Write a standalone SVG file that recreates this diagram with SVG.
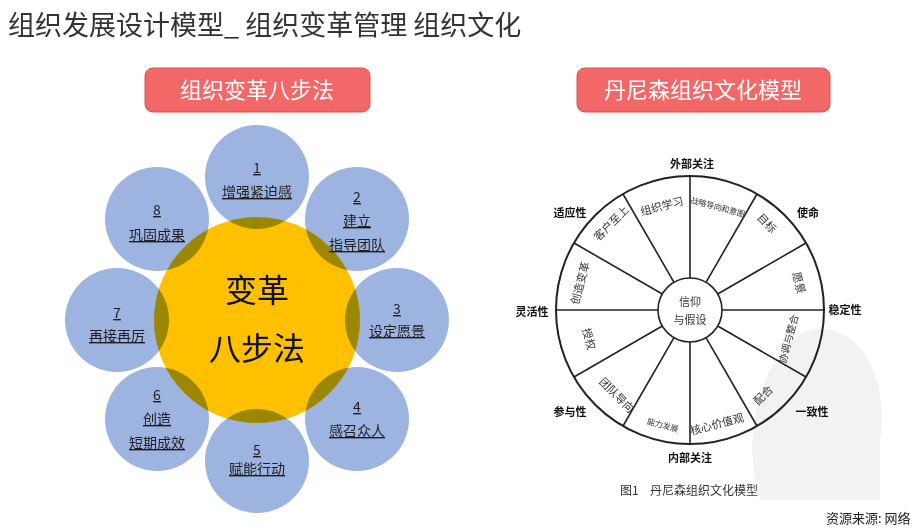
<svg xmlns="http://www.w3.org/2000/svg" width="924" height="532" viewBox="0 0 924 532">
<style>
text{font-family:"Microsoft YaHei","Noto Sans CJK SC",sans-serif}
.bc{fill:#8eaadb;fill-opacity:0.88;mix-blend-mode:multiply}
.bt{font-size:14px;fill:#1f1f1f;text-anchor:middle;text-decoration:underline}
.pill{fill:#f26767;stroke:#e05050}
.pt{font-size:22px;fill:#fff;text-anchor:middle}
.sp{stroke:#222;stroke-width:1.6}
.ol{font-size:11px;font-weight:bold;fill:#111;text-anchor:middle}
.sg{font-size:11px;fill:#333;text-anchor:middle}
</style>
<rect width="924" height="532" fill="#fff"/>
<text x="8" y="35" font-size="27" fill="#333">组织发展设计模型_ 组织变革管理  组织文化</text>
<g id="pill-left"><rect class="pill" x="145" y="68" width="225" height="44" rx="8"/><text class="pt" x="257" y="98">组织变革八步法</text></g>
<g id="pill-right"><rect class="pill" x="577" y="68" width="253" height="44" rx="8"/><text class="pt" x="703" y="98">丹尼森组织文化模型</text></g>
<g id="center"><circle cx="257" cy="320" r="103" fill="#ffc000"/></g>
<g id="s1"><circle class="bc" cx="257" cy="177" r="52"/></g>
<g id="s2"><circle class="bc" cx="357" cy="219" r="52"/></g>
<g id="s3"><circle class="bc" cx="397" cy="320" r="52"/></g>
<g id="s4"><circle class="bc" cx="357" cy="419" r="52"/></g>
<g id="s5"><circle class="bc" cx="257" cy="461" r="52"/></g>
<g id="s6"><circle class="bc" cx="157" cy="419" r="52"/></g>
<g id="s7"><circle class="bc" cx="117" cy="320" r="52"/></g>
<g id="s8"><circle class="bc" cx="157" cy="219" r="52"/></g>
<g id="labels">
<text x="257" y="302" font-size="32" text-anchor="middle" fill="#111">变革</text><text x="257" y="360" font-size="32" text-anchor="middle" fill="#111">八步法</text>
<text class="bt" x="257" y="173">1</text><text class="bt" x="257" y="197">增强紧迫感</text>
<text class="bt" x="357" y="202">2</text><text class="bt" x="357" y="226">建立</text><text class="bt" x="357" y="250">指导团队</text>
<text class="bt" x="397" y="314">3</text><text class="bt" x="397" y="336">设定愿景</text>
<text class="bt" x="357" y="412">4</text><text class="bt" x="357" y="436">感召众人</text>
<text class="bt" x="257" y="455">5</text><text class="bt" x="257" y="474">赋能行动</text>
<text class="bt" x="157" y="400">6</text><text class="bt" x="157" y="424">创造</text><text class="bt" x="157" y="448">短期成效</text>
<text class="bt" x="117" y="318">7</text><text class="bt" x="117" y="341">再接再厉</text>
<text class="bt" x="157" y="215">8</text><text class="bt" x="157" y="240">巩固成果</text>
</g>
<path d="M760,500 C740,440 760,350 810,330 C860,320 890,380 880,440 L880,500 Z" fill="#f2f2f2"/>
<g id="wheel">
<circle cx="690" cy="310" r="134" fill="none" stroke="#222" stroke-width="2"/>
<circle cx="690" cy="310" r="32" fill="#fff" stroke="#222" stroke-width="1.6"/>
<g class="sp">
<line x1="690" y1="278" x2="690" y2="176"/><line x1="690" y1="342" x2="690" y2="444"/>
<line x1="658" y1="310" x2="556" y2="310"/><line x1="722" y1="310" x2="824" y2="310"/>
<line x1="706" y1="282.3" x2="757" y2="194"/><line x1="674" y1="337.7" x2="623" y2="426"/>
<line x1="717.7" y1="294" x2="806" y2="243"/><line x1="662.3" y1="326" x2="574" y2="377"/>
<line x1="717.7" y1="326" x2="806" y2="377"/><line x1="662.3" y1="294" x2="574" y2="243"/>
<line x1="706" y1="337.7" x2="757" y2="426"/><line x1="674" y1="282.3" x2="623" y2="194"/>
</g>
<text class="sg" x="690" y="306" font-size="10">信仰</text><text class="sg" x="690" y="324" font-size="10">与假设</text>
<g class="sg">
<text transform="translate(717,210) rotate(15)" font-size="8">战略导向和意图</text>
<text transform="translate(764,226) rotate(45)">目标</text>
<text transform="translate(795,284) rotate(75)">愿景</text>
<text transform="translate(792,340) rotate(-75)" font-size="10">协调与整合</text>
<text transform="translate(766,398) rotate(-45)">配合</text>
<text transform="translate(718,428) rotate(-15)">核心价值观</text>
<text transform="translate(662,428) rotate(15)" font-size="8">能力发展</text>
<text transform="translate(614,398) rotate(45)">团队导向</text>
<text transform="translate(585,340) rotate(75)">授权</text>
<text transform="translate(584,284) rotate(-75)">创造变革</text>
<text transform="translate(614,226) rotate(-45)">客户至上</text>
<text transform="translate(663,210) rotate(-15)">组织学习</text>
</g>
<text class="ol" x="692" y="168">外部关注</text>
<text class="ol" x="808" y="217">使命</text>
<text class="ol" x="845" y="314">稳定性</text>
<text class="ol" x="812" y="416">一致性</text>
<text class="ol" x="690" y="462">内部关注</text>
<text class="ol" x="570" y="416">参与性</text>
<text class="ol" x="532" y="316">灵活性</text>
<text class="ol" x="570" y="217">适应性</text>
<text x="620" y="495" font-size="12" fill="#333">图1</text><text x="650" y="495" font-size="12" fill="#333">丹尼森组织文化模型</text>
</g>
<text x="826" y="523" font-size="13" fill="#222">资源来源: 网络</text>
</svg>
